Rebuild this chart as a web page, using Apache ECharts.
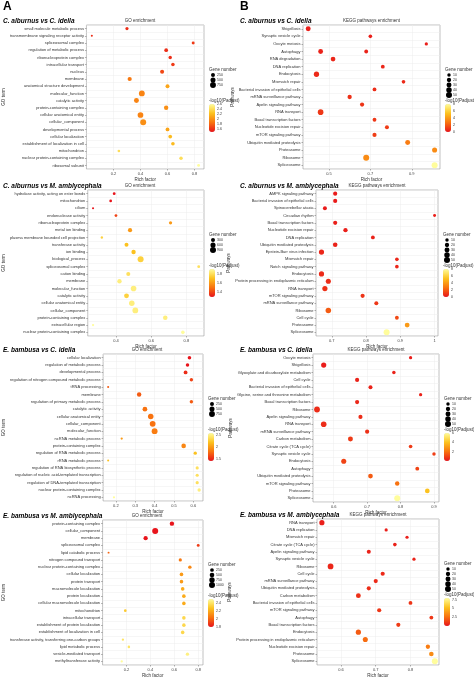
<!DOCTYPE html>
<html>
<head>
<meta charset="utf-8">
<script src="https://cdn.jsdelivr.net/npm/echarts@6/dist/echarts.min.js"></script>
<style>
html,body{margin:0;padding:0;background:#fff;}
#chart{width:474px;height:679px;}
</style>
</head>
<body>
<div id="chart"></div>
<script>
// A1: C. alburnus vs C. idella (GO)
const a1Terms = ['small molecule metabolic process','transmembrane signaling receptor activity','spliceosomal complex','regulation of metabolic process','ribonucleoprotein complex','intracellular transport','nucleus','membrane','anatomical structure development','molecular_function','catalytic activity','protein-containing complex','cellular anatomical entity','cellular_component','developmental process','cellular localization','establishment of localization in cell','mitochondrion','nuclear protein-containing complex','ribosomal subunit'];
const a1Rich = [0.30,0.04,0.79,0.59,0.62,0.64,0.56,0.32,0.60,0.41,0.37,0.59,0.40,0.42,0.60,0.62,0.64,0.24,0.70,0.83];
const a1Genes = [120,15,90,200,160,170,260,300,250,750,480,330,700,780,230,200,190,60,160,80];
const a1LogP = [1.6,1.6,1.65,1.6,1.6,1.65,1.7,1.9,2.1,1.95,1.95,2.0,1.95,2.0,2.1,2.2,2.2,2.4,2.4,2.6];

// A2: C. alburnus vs M. amblycephala (GO)
const a2Terms = ['hydrolase activity, acting on ester bonds','mitochondrion','cilium','endonuclease activity','ribonucleoprotein complex','metal ion binding','plasma membrane bounded cell projection','transferase activity','ion binding','biological_process','spliceosomal complex','cation binding','membrane','molecular_function','catalytic activity','cellular anatomical entity','cellular_component','protein-containing complex','extracellular region','nuclear protein-containing complex'];
const a2Rich = [0.39,0.37,0.27,0.40,0.71,0.48,0.32,0.46,0.50,0.54,0.87,0.47,0.42,0.50,0.46,0.49,0.51,0.68,0.27,0.78];
const a2Genes = [90,70,20,80,140,330,40,280,380,900,90,300,380,760,500,720,800,420,30,200];
const a2LogP = [1.3,1.3,1.3,1.4,1.6,1.6,1.75,1.7,1.7,1.75,1.8,1.8,1.85,1.85,1.75,1.85,1.85,1.85,1.9,1.9];

// A3: E. bambusa vs C. idella (GO)
const a3Terms = ['cellular localization','regulation of metabolic process','developmental process','regulation of nitrogen compound metabolic process','tRNA processing','membrane','regulation of primary metabolic process','catalytic activity','cellular anatomical entity','cellular_component','molecular_function','ncRNA metabolic process','protein-containing complex','regulation of RNA metabolic process','rRNA metabolic process','regulation of RNA biosynthetic process','regulation of nucleic acid-templated transcription','regulation of DNA-templated transcription','nuclear protein-containing complex','ncRNA processing'];
const a3Rich = [0.58,0.57,0.56,0.59,0.16,0.32,0.59,0.35,0.38,0.39,0.40,0.23,0.55,0.61,0.16,0.62,0.62,0.62,0.63,0.19];
const a3Genes = [180,170,230,150,15,350,150,420,640,720,760,30,380,130,15,120,120,120,140,25];
const a3LogP = [1.4,1.4,1.5,1.6,1.7,1.7,1.7,1.8,1.8,1.8,1.85,2.0,1.9,2.2,2.2,2.4,2.4,2.4,2.5,2.6];

// A4: E. bambusa vs M. amblycephala (GO)
const a4Terms = ['protein-containing complex','cellular_component','membrane','spliceosomal complex','lipid catabolic process','nitrogen compound transport','nuclear protein-containing complex','cellular localization','protein transport','macromolecule localization','protein localization','cellular macromolecule localization','mitochondrion','intracellular transport','establishment of protein localization','establishment of localization in cell','transferase activity, transferring one-carbon groups','lipid metabolic process','vesicle-mediated transport','methyltransferase activity'];
const a4Rich = [0.58,0.44,0.36,0.80,0.05,0.65,0.73,0.66,0.66,0.67,0.68,0.68,0.19,0.68,0.68,0.67,0.17,0.22,0.71,0.16];
const a4Genes = [420,1000,400,110,15,160,200,240,220,230,230,220,80,220,210,220,40,60,180,40];
const a4LogP = [1.8,1.8,1.8,1.9,2.0,2.05,2.1,2.15,2.15,2.2,2.2,2.2,2.3,2.35,2.35,2.35,2.4,2.4,2.45,2.5];

// B1: C. alburnus vs C. idella (KEGG)
const b1Terms = ['Shigellosis','Synaptic vesicle cycle','Oocyte meiosis','Autophagy','Autophagy','RNA degradation','DNA replication','Endocytosis','Mismatch repair','Bacterial invasion of epithelial cells','mRNA surveillance pathway','Apelin signaling pathway','RNA transport','Basal transcription factors','Nucleotide excision repair','mTOR signaling pathway','Ubiquitin mediated proteolysis','Proteasome','Ribosome','Spliceosome'];
const b1Rich = [0.40,0.70,0.97,0.46,0.68,0.52,0.76,0.44,0.86,0.72,0.60,0.66,0.46,0.72,0.78,0.72,0.88,1.01,0.68,1.01];
const b1Genes = [30,12,8,28,14,26,14,36,12,14,20,18,42,14,16,18,30,32,50,50];
const b1LogP = [0.3,0.3,0.3,0.4,0.4,0.5,0.5,0.6,0.6,0.7,0.8,0.9,1.0,1.0,1.1,1.2,3.0,3.5,3.5,8.0];

// B2: C. alburnus vs M. amblycephala (KEGG)
const b2Terms = ['AMPK signaling pathway','Bacterial invasion of epithelial cells','Spinocerebellar ataxia','Circadian rhythm','Basal transcription factors','Nucleotide excision repair','DNA replication','Ubiquitin mediated proteolysis','Epstein-Barr virus infection','Mismatch repair','Notch signaling pathway','Endocytosis','Protein processing in endoplasmic reticulum','RNA transport','mTOR signaling pathway','mRNA surveillance pathway','Ribosome','Cell cycle','Proteasome','Spliceosome'];
const b2Rich = [0.71,0.71,0.68,1.00,0.71,0.74,0.82,0.71,0.67,0.89,0.89,0.67,0.69,0.68,0.79,0.83,0.69,0.89,0.92,0.86];
const b2Genes = [18,18,16,6,18,20,14,24,34,12,12,34,32,34,18,16,40,14,28,50];
const b2LogP = [0.2,0.2,0.2,0.3,0.3,0.3,0.4,0.4,0.5,0.5,0.5,0.6,0.7,0.8,0.9,1.0,2.0,1.5,4.0,8.0];

// B3: E. bambusa vs C. idella (KEGG)
const b3Terms = ['Oocyte meiosis','Shigellosis','Glyoxylate and dicarboxylate metabolism','Cell cycle','Bacterial invasion of epithelial cells','Glycine, serine and threonine metabolism','Basal transcription factors','Ribosome','Apelin signaling pathway','RNA transport','mRNA surveillance pathway','Carbon metabolism','Citrate cycle (TCA cycle)','Synaptic vesicle cycle','Endocytosis','Autophagy','Ubiquitin mediated proteolysis','mTOR signaling pathway','Proteasome','Spliceosome'];
const b3Rich = [0.83,0.57,0.78,0.67,0.71,0.86,0.67,0.55,0.68,0.57,0.70,0.65,0.83,0.90,0.63,0.85,0.71,0.79,0.88,0.79];
const b3Genes = [8,34,10,18,16,8,18,46,18,42,18,30,12,10,32,14,26,22,26,50];
const b3LogP = [0.2,0.2,0.3,0.3,0.3,0.3,0.4,0.5,0.5,0.5,0.6,0.8,0.8,0.9,1.0,1.0,1.5,2.0,4.0,6.0];

// B4: E. bambusa vs M. amblycephala (KEGG)
const b4Terms = ['RNA transport','DNA replication','Mismatch repair','Citrate cycle (TCA cycle)','Apelin signaling pathway','Synaptic vesicle cycle','Ribosome','Cell cycle','mRNA surveillance pathway','Ubiquitin mediated proteolysis','Carbon metabolism','Bacterial invasion of epithelial cells','mTOR signaling pathway','Autophagy','Basal transcription factors','Endocytosis','Protein processing in endoplasmic reticulum','Nucleotide excision repair','Proteasome','Spliceosome'];
const b4Rich = [0.545,0.73,0.79,0.755,0.68,0.81,0.57,0.72,0.70,0.68,0.65,0.80,0.71,0.86,0.765,0.65,0.67,0.85,0.86,0.87];
const b4Genes = [34,8,8,12,16,8,44,18,18,18,28,14,18,14,18,34,32,20,24,50];
const b4LogP = [0.3,0.3,0.3,0.4,0.4,0.4,0.5,0.6,0.6,0.7,0.8,0.9,1.0,1.0,1.1,2.0,2.5,3.0,3.5,8.0];

const panels = [
  {id:'A1', name:'C. alburnus vs C. idella', kind:'GO', terms:a1Terms, rich:a1Rich, genes:a1Genes, logp:a1LogP,
   box:[76,25,204,169], xr:[0,0.87], ticks:[0.2,0.4,0.6,0.8], sizeLeg:[250,500,750], maxG:800, cr:[1.5,2.6], cTicks:[1.6,1.8,2.0,2.2,2.4,2.6]},
  {id:'A2', name:'C. alburnus vs M. amblycephala', kind:'GO', terms:a2Terms, rich:a2Rich, genes:a2Genes, logp:a2LogP,
   box:[76,190,204,336], xr:[0.24,0.9], ticks:[0.4,0.6,0.8], sizeLeg:[300,600,900], maxG:900, cr:[1.3,1.9], cTicks:[1.4,1.6,1.8]},
  {id:'A3', name:'E. bambusa vs C. idella', kind:'GO', terms:a3Terms, rich:a3Rich, genes:a3Genes, logp:a3LogP,
   box:[91,354,203,501], xr:[0.134,0.65], ticks:[0.2,0.3,0.4,0.5,0.6], sizeLeg:[250,500,750], maxG:800, cr:[1.4,2.6], cTicks:[1.5,2.0,2.5]},
  {id:'A4', name:'E. bambusa vs M. amblycephala', kind:'GO', terms:a4Terms, rich:a4Rich, genes:a4Genes, logp:a4LogP,
   box:[91,520,203,667], xr:[0.0,0.84], ticks:[0.2,0.4,0.6,0.8], sizeLeg:[250,500,750,1000], maxG:1000, cr:[1.8,2.5], cTicks:[1.8,2.0,2.2,2.4]},
  {id:'B1', name:'C. alburnus vs C. idella', kind:'KEGG', terms:b1Terms, rich:b1Rich, genes:b1Genes, logp:b1LogP,
   box:[303,25,440,169], xr:[0.375,1.036], ticks:[0.5,0.7,0.9], sizeLeg:[10,20,30,40,50], maxG:50, cr:[0,8], cTicks:[0,2,4,6,8]},
  {id:'B2', name:'C. alburnus vs M. amblycephala', kind:'KEGG', terms:b2Terms, rich:b2Rich, genes:b2Genes, logp:b2LogP,
   box:[316,190,438,336], xr:[0.654,1.01], ticks:[0.7,0.8,0.9,1.0], sizeLeg:[10,20,30,40,50], maxG:50, cr:[0,8], cTicks:[0,2,4,6,8]},
  {id:'B3', name:'E. bambusa vs C. idella', kind:'KEGG', terms:b3Terms, rich:b3Rich, genes:b3Genes, logp:b3LogP,
   box:[313,354,439,502], xr:[0.538,0.915], ticks:[0.6,0.7,0.8,0.9], sizeLeg:[10,20,30,40,50], maxG:50, cr:[0,6], cTicks:[2,4,6]},
  {id:'B4', name:'E. bambusa vs M. amblycephala', kind:'KEGG', terms:b4Terms, rich:b4Rich, genes:b4Genes, logp:b4LogP,
   box:[317,519,439,667], xr:[0.531,0.882], ticks:[0.6,0.7,0.8], sizeLeg:[10,20,30,40,50], maxG:50, cr:[0,8], cTicks:[2.5,5.0,7.5]}
];

const colors = ['#e8141b','#f8720f','#fcc21f','#fffd9c'];
const sizeOf = (g, maxG) => 1.4 + 4.6 * Math.sqrt(g / maxG);

const grids = [], xAxes = [], yAxes = [], series = [], visualMaps = [], graphics = [];

graphics.push({type:'text', left:3, top:1, style:{text:'A', font:'bold 12px Arial', fill:'#000'}});
graphics.push({type:'text', left:240, top:1, style:{text:'B', font:'bold 12px Arial', fill:'#000'}});

panels.forEach((p, i) => {
  const [l, t, r, b] = p.box;
  const cats = [...new Set(p.terms)];
  const colX = p.id[0] === 'A' ? 3 : 240;
  grids.push({left:l, top:t, width:r - l, height:b - t, show:true, borderColor:'#999', borderWidth:0.6, backgroundColor:'#fff'});
  xAxes.push({
    type:'value', gridIndex:i, min:p.xr[0], max:p.xr[1],
    name:'Rich factor', nameLocation:'middle', nameGap:8,
    nameTextStyle:{fontSize:4.5, color:'#333'},
    axisLine:{show:false},
    axisTick:{show:true, length:1.5, customValues:p.ticks, lineStyle:{color:'#666', width:0.5}},
    axisLabel:{fontSize:4, color:'#444', margin:2.5, customValues:p.ticks},
    splitLine:{show:true, lineStyle:{color:'#ececec', width:0.5}}
  });
  yAxes.push({
    type:'category', gridIndex:i, data:cats, inverse:true,
    name:p.kind === 'GO' ? 'GO term' : 'Pathways', nameLocation:'middle',
    nameGap:l - colX - 6, nameRotate:90, nameTextStyle:{fontSize:4.5, color:'#333'},
    axisLine:{show:false},
    axisTick:{show:true, length:1.5, alignWithLabel:true, lineStyle:{color:'#666', width:0.5}},
    axisLabel:{fontSize:4, color:'#333', margin:2.5, interval:0},
    splitLine:{show:true, lineStyle:{color:'#ececec', width:0.5}}
  });
  series.push({
    type:'scatter', xAxisIndex:i, yAxisIndex:i,
    data:p.terms.map((term, k) => [p.rich[k], term, p.genes[k], p.logp[k]]),
    symbolSize:v => sizeOf(v[2], p.maxG),
    itemStyle:{opacity:1}
  });
  const barTop = t + 79, barH = 28, lx = r + 5;
  visualMaps.push({
    type:'continuous', seriesIndex:i, dimension:3, min:p.cr[0], max:p.cr[1],
    inRange:{color:colors}, calculable:false, showLabel:false, text:null, padding:0,
    itemWidth:6, itemHeight:barH, left:lx, top:barTop
  });
  p.cTicks.forEach(v => {
    const y = barTop + barH * (1 - (v - p.cr[0]) / (p.cr[1] - p.cr[0]));
    graphics.push({type:'text', left:lx + 8, top:y - 2, style:{text:String(v), font:'3.5px Arial', fill:'#333'}});
  });
  // panel headings
  graphics.push({type:'text', left:colX, y:t - 4,
    style:{text:p.name, font:'italic bold 6.5px Arial', fill:'#000', verticalAlign:'middle'}});
  graphics.push({type:'text', x:(l + r) / 2, y:t - 4,
    style:{text:p.kind === 'GO' ? 'GO enrichment' : 'KEGG pathways enrichment', font:'4.5px Arial', fill:'#333', align:'center', verticalAlign:'middle'}});
  // gene number legend
  graphics.push({type:'text', left:lx, top:t + 42, style:{text:'Gene number', font:'4.5px Arial', fill:'#333'}});
  p.sizeLeg.forEach((g, k) => {
    const cy = t + 50 + k * 5;
    const d = sizeOf(g, p.maxG);
    graphics.push({type:'circle', shape:{cx:lx + 4, cy:cy, r:d / 2}, style:{fill:'#000'}});
    graphics.push({type:'text', left:lx + 8, top:cy - 2, style:{text:String(g), font:'3.5px Arial', fill:'#333'}});
  });
  graphics.push({type:'text', left:lx, top:t + 73, style:{text:'-log10(Padjust)', font:'4.5px Arial', fill:'#333'}});
});

const chart = echarts.init(document.getElementById('chart'));
chart.setOption({
  backgroundColor:'#fff',
  animation:false,
  textStyle:{fontFamily:'Arial, Liberation Sans, sans-serif'},
  grid:grids, xAxis:xAxes, yAxis:yAxes, series:series,
  visualMap:visualMaps, graphic:graphics
});
</script>
</body>
</html>
